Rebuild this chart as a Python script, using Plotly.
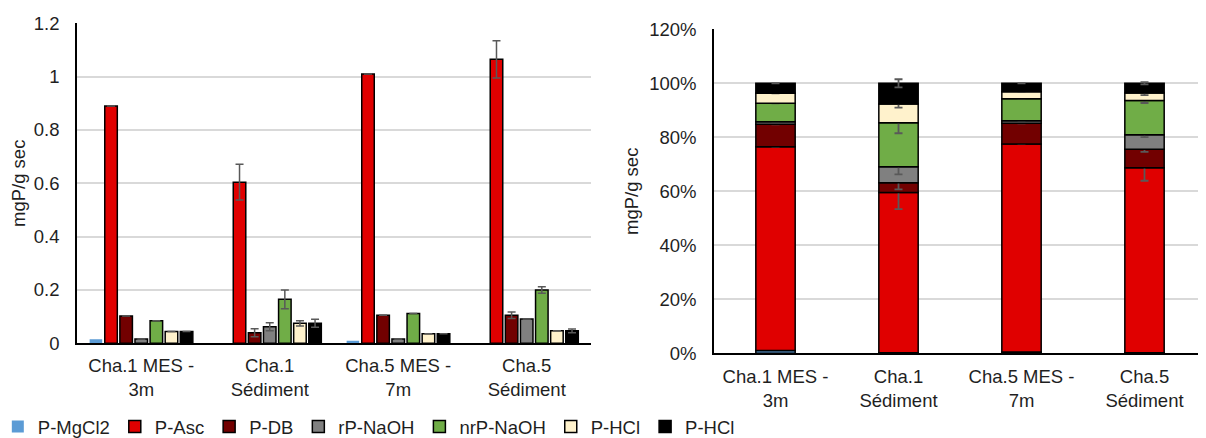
import plotly.graph_objects as go
import numpy as np

categories = ["Cha.1 MES -<br>3m", "Cha.1<br>Sédiment", "Cha.5 MES -<br>7m", "Cha.5<br>Sédiment"]
series_names = ["P-MgCl2", "P-Asc", "P-DB", "rP-NaOH", "nrP-NaOH", "P-HCl", "P-HCl"]
colors = ["#5B9BD5", "#E00000", "#720000", "#808080", "#70AD47", "#FFF2CC", "#000000"]

# Left chart: mgP/g sec
mg_mgcl2 = [0.015, 0.0, 0.010, 0.0]
mg_asc = [0.89, 0.604, 1.01, 1.065]
mg_db = [0.102, 0.040, 0.105, 0.105]
mg_rnaoh = [0.016, 0.062, 0.016, 0.091]
mg_nrnaoh = [0.085, 0.165, 0.112, 0.200]
mg_hcl1 = [0.044, 0.075, 0.036, 0.047]
mg_hcl2 = [0.044, 0.075, 0.036, 0.047]

err_mgcl2 = [0, 0, 0, 0]
err_asc = [0, 0.067, 0, 0.07]
err_db = [0, 0.015, 0, 0.012]
err_rnaoh = [0, 0.015, 0, 0.0]
err_nrnaoh = [0, 0.035, 0, 0.012]
err_hcl1 = [0, 0.01, 0, 0.0]
err_hcl2 = [0, 0.015, 0, 0.007]

# Right chart: percentages
pc_mgcl2 = [1.0, 0.2, 0.5, 0.2]
pc_asc = [75.5, 59.4, 77.0, 68.5]
pc_db = [8.3, 3.6, 7.7, 6.9]
pc_rnaoh = [1.0, 5.9, 0.9, 5.3]
pc_nrnaoh = [6.8, 16.3, 8.2, 12.7]
pc_hcl1 = [3.7, 6.9, 2.6, 2.8]
pc_hcl2 = [3.7, 7.7, 3.1, 3.6]

perr_mgcl2 = [0, 0, 0, 0]
perr_asc = [0, 6.2, 0, 4.8]
perr_db = [0, 2.5, 0, 1.0]
perr_rnaoh = [0, 2.8, 0, 0.8]
perr_nrnaoh = [0, 3.9, 0, 0.9]
perr_hcl1 = [0, 1.3, 0, 0.8]
perr_hcl2 = [0, 1.5, 0, 0.4]

left_vals = [mg_mgcl2, mg_asc, mg_db, mg_rnaoh, mg_nrnaoh, mg_hcl1, mg_hcl2]
left_errs = [err_mgcl2, err_asc, err_db, err_rnaoh, err_nrnaoh, err_hcl1, err_hcl2]
right_vals = [pc_mgcl2, pc_asc, pc_db, pc_rnaoh, pc_nrnaoh, pc_hcl1, pc_hcl2]
right_errs = [perr_mgcl2, perr_asc, perr_db, perr_rnaoh, perr_nrnaoh, perr_hcl1, perr_hcl2]

FONT = "Liberation Sans, Arial, sans-serif"
FS = 18.5
TXT = "#1f1f1f"
ERRC = "#595959"

fig = go.Figure()

for i, (name, col, vals, errs) in enumerate(zip(series_names, colors, left_vals, left_errs)):
    has_err = any(e > 0 for e in errs)
    fig.add_trace(go.Bar(
        x=categories, y=vals, name=name,
        marker=dict(color=col, line=dict(color="#000000", width=0 if i == 0 else 1.5)),
        error_y=dict(type="data", array=errs, visible=has_err, color=ERRC, thickness=1.5, width=4),
        xaxis="x", yaxis="y", showlegend=True,
    ))

cum = np.zeros(len(categories))
for i, (name, col, vals, errs) in enumerate(zip(series_names, colors, right_vals, right_errs)):
    has_err = any(e > 0 for e in errs)
    fig.add_trace(go.Bar(
        x=categories, y=vals, base=cum.copy(), name=name,
        width=0.32, offset=-0.16,
        marker=dict(color=col, line=dict(color="#000000", width=1.5)),
        error_y=dict(type="data", array=errs, visible=has_err, color=ERRC, thickness=1.8, width=4),
        xaxis="x2", yaxis="y2", showlegend=False,
    ))
    cum = cum + np.array(vals)

axis_common = dict(
    showline=True, linecolor="#000000", linewidth=1.5,
    tickfont=dict(family=FONT, size=FS, color=TXT),
    ticks="", fixedrange=True,
)

fig.update_layout(
    width=1198, height=430,
    margin=dict(l=0, r=0, t=0, b=25, autoexpand=False),
    paper_bgcolor="white", plot_bgcolor="white",
    barmode="group", bargap=0.177, bargroupgap=0.17,
    font=dict(family=FONT, size=FS, color=TXT),
    xaxis=dict(domain=[0.0576, 0.4866], anchor="y", ticklabelstandoff=5, **axis_common),
    yaxis=dict(domain=[0.1721, 0.9622], anchor="x", range=[0, 1.2], dtick=0.2,
               showgrid=True, gridcolor="#D9D9D9", gridwidth=1.5, zeroline=False,
               ticklabelstandoff=12,
               title=dict(text="mgP/g sec", font=dict(family=FONT, size=FS, color=TXT), standoff=8),
               **axis_common),
    xaxis2=dict(domain=[0.58932, 1.0], anchor="y2", ticklabelstandoff=6, **axis_common),
    yaxis2=dict(domain=[0.1474, 0.9474], anchor="x2", range=[0, 120], dtick=20, ticksuffix="%",
                showgrid=True, gridcolor="#D9D9D9", gridwidth=1.5, zeroline=False,
                ticklabelstandoff=12,
                title=dict(text="mgP/g sec", font=dict(family=FONT, size=FS, color=TXT), standoff=6),
                **axis_common),
    legend=dict(orientation="h", x=-0.0085, xanchor="left", y=-0.0346, yanchor="middle",
                font=dict(family=FONT, size=FS, color=TXT),
                itemwidth=30, bgcolor="rgba(0,0,0,0)",
                traceorder="normal"),
)

fig.write_html("out.html")
